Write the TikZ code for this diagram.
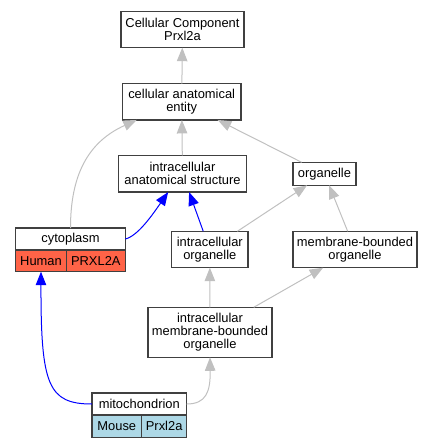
\documentclass[tikz,border=0pt]{standalone}
\usepackage{fontspec}
\setmainfont{Liberation Sans}
\usetikzlibrary{arrows.meta}
\definecolor{edgegray}{HTML}{C0C0C0}
\definecolor{humanred}{HTML}{FF6347}
\definecolor{mouseblue}{HTML}{ADD8E6}
\definecolor{boxline}{HTML}{404040}

\begin{document}
\begin{tikzpicture}
[x=1pt,y=-1pt
,tm/.style={draw=boxline,line width=1.5pt,fill=white,inner sep=0pt,outer sep=0pt,align=center,font=\fontsize{12.9}{13.3}\selectfont}
,hd/.style={tm,minimum height=22pt}
,hcell/.style={tm,fill=humanred,minimum height=21.7pt,anchor=north west}
,mcell/.style={tm,fill=mouseblue,minimum height=22.3pt,anchor=north west}
,isa/.style={draw=edgegray,line width=1pt,arrows={-Triangle[length=13.5pt,width=10.5pt,fill=edgegray]}}
,orth/.style={draw=blue,line width=1pt,arrows={-Triangle[length=13.5pt,width=10.5pt,fill=blue]}}
]
\useasboundingbox (0,0) rectangle (432,448);
% terms
\node[tm,minimum width=123pt,minimum height=36pt] (cc) at (182.5,29.7) {Cellular Component\\Prxl2a};
\node[tm,minimum width=118.7pt,minimum height=36.3pt] (cae) at (181.7,101.8) {cellular anatomical\\entity};
\node[tm,minimum width=128.4pt,minimum height=36.7pt] (ias) at (182.5,173.7) {intracellular\\anatomical structure};
\node[tm,minimum width=63pt,minimum height=23pt] (org) at (324.5,173.8) {organelle};
\node[tm,minimum width=76.3pt,minimum height=36.4pt] (io) at (209.8,249.5) {intracellular\\organelle};
\node[tm,minimum width=124pt,minimum height=36.4pt] (mbo) at (355,249.5) {membrane-bounded\\organelle};
\node[tm,minimum width=124pt,minimum height=50pt] (imbo) at (210,332.3) {intracellular\\membrane-bounded\\organelle};
% annotated terms with gene cells
\node[hd,minimum width=109.6pt] (cyto) at (70.5,239) {cytoplasm};
\node[hcell,minimum width=50.6pt] (human) at (cyto.south west) {Human};
\node[hcell,minimum width=59pt] (cygene) at (human.north east) {PRXL2A};
\node[hd,minimum width=94.7pt] (mito) at (139.3,404) {mitochondrion};
\node[mcell,minimum width=49.7pt] (mouse) at (mito.south west) {Mouse};
\node[mcell,minimum width=45pt] (mogene) at (mouse.north east) {Prxl2a};
% is_a edges
\draw[isa] (cae) -- (cc);
\draw[isa] (ias) -- (cae);
\draw[isa] (org) -- (cae);
\draw[isa] (cyto.north) .. controls (70.5,175) and (88,142) .. (cae.202);
\draw[isa] (io) -- (org);
\draw[isa] (mbo) -- (org);
\draw[isa] (imbo) -- (io);
\draw[isa] (imbo) -- (mbo);
\draw[isa] (mito.east) .. controls (206,404) and (210.5,392) .. (imbo.south);
% blue edges
\draw[orth] (cyto.east) .. controls (138,236) and (153,214) .. (ias.232);
\draw[orth] (io) -- (ias);
\draw[orth] (mito.west) .. controls (48,404) and (40.8,385) .. (human.south);
\end{tikzpicture}
\end{document}
